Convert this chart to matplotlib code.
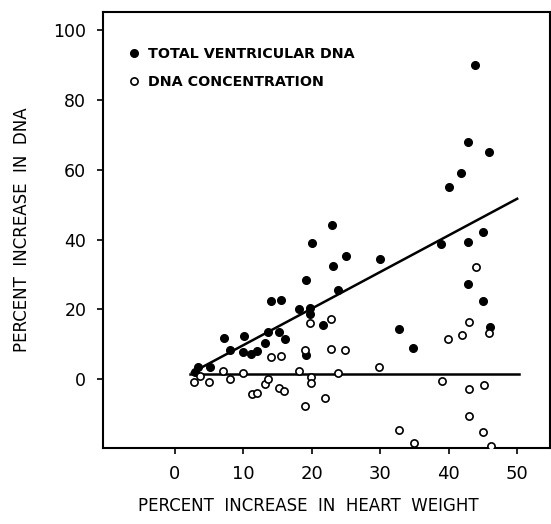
import matplotlib
matplotlib.use("Agg")
import matplotlib.pyplot as plt

# Total ventricular DNA (filled)
total_x = [3.4, 3.0, 5.1, 7.2, 8.1, 10.1, 10.0, 11.1, 12.0, 13.1, 13.6, 14.1, 15.5, 15.2,
           16.1, 18.2, 19.1, 19.1, 19.8, 19.8, 20.0, 21.7, 23.0, 23.1, 23.9, 25.0, 30.0,
           32.8, 34.8, 38.9, 42.8, 42.8, 45.0, 45.0, 46.1, 43.9, 42.8, 45.9, 41.8, 40.0]
total_y = [3.6, 2.0, 3.6, 11.7, 8.4, 12.3, 7.7, 7.3, 8.2, 10.3, 13.5, 22.3, 22.8, 13.5,
           11.5, 20.2, 28.4, 6.9, 20.5, 18.7, 39.0, 15.6, 44.3, 32.4, 25.5, 35.4, 34.4,
           14.5, 9.0, 38.8, 39.2, 27.2, 42.3, 22.4, 15.0, 90.1, 68.1, 65.2, 59.0, 55.0]

# DNA concentration (open)
conc_x = [2.8, 3.6, 5.0, 7.1, 8.1, 10.0, 11.2, 12.0, 13.1, 13.6, 14.0, 15.5, 15.2, 16.0,
          18.2, 19.0, 19.0, 19.8, 19.9, 19.9, 22.0, 22.8, 22.8, 23.9, 24.8, 29.8, 32.8,
          34.9, 39.0, 39.9, 41.9, 42.9, 43.0, 43.0, 44.0, 45.1, 45.0, 45.9, 46.2]
conc_y = [-0.7, 1.0, -0.8, 2.3, 0.0, 1.9, -4.2, -4.0, -1.4, 0.1, 6.4, 6.6, -2.6, -3.5,
          2.5, 8.3, -7.8, 16.0, 0.5, -1.0, -5.4, 8.7, 17.3, 1.9, 8.3, 3.4, -14.6,
          -18.4, -0.6, 11.5, 12.6, 16.5, -2.8, -10.5, 32.2, -1.7, -15.0, 13.3, -19.1]

# Fitted lines (endpoints)
fit_total_x = [2.5, 50.0]
fit_total_y = [1.9, 51.7]
fit_conc_x = [2.2, 50.3]
fit_conc_y = [1.4, 1.4]

x_ticks = [0, 10, 20, 30, 40, 50]
y_ticks = [0, 20, 40, 60, 80, 100]

fig = plt.figure(figsize=(5.51, 5.24), dpi=100)
ax = fig.add_axes([103/551, 1-448/524, (550-103)/551, (448-12)/524])

ax.plot(fit_total_x, fit_total_y, color='black', lw=1.8, zorder=2)
ax.plot(fit_conc_x, fit_conc_y, color='black', lw=1.8, zorder=2)
h1, = ax.plot(total_x, total_y, 'o', color='black', ms=5.5, lw=0, zorder=3,
              label='TOTAL VENTRICULAR DNA')
h2, = ax.plot(conc_x, conc_y, 'o', mfc='white', mec='black', mew=1.2, ms=5.2, lw=0,
              zorder=3, label='DNA CONCENTRATION')

ax.set_xlim(-10.5, 54.8)
ax.set_ylim(-19.7, 105.2)
ax.set_xticks(x_ticks)
ax.set_yticks(y_ticks)
ax.tick_params(direction='out', length=4, width=1.2, pad=8)
ax.tick_params(axis='x', labelsize=13)
ax.tick_params(axis='y', labelsize=12.5)
for s in ax.spines.values():
    s.set_linewidth(1.5)

leg = ax.legend(handles=[h1, h2], loc='upper left', frameon=False,
                bbox_to_anchor=(0.03, 0.95), handlelength=0.6, handletextpad=0.7,
                labelspacing=1.0, prop={'size': 10.3, 'weight': 'bold'})

fig.text(308/551, 1-506/524, 'PERCENT  INCREASE  IN  HEART  WEIGHT', ha='center',
         va='center', fontsize=12)
fig.text(22/551, 1-230/524, 'PERCENT  INCREASE  IN  DNA', ha='center', va='center',
         rotation=90, fontsize=12)

fig.savefig('out.png', dpi=100)
